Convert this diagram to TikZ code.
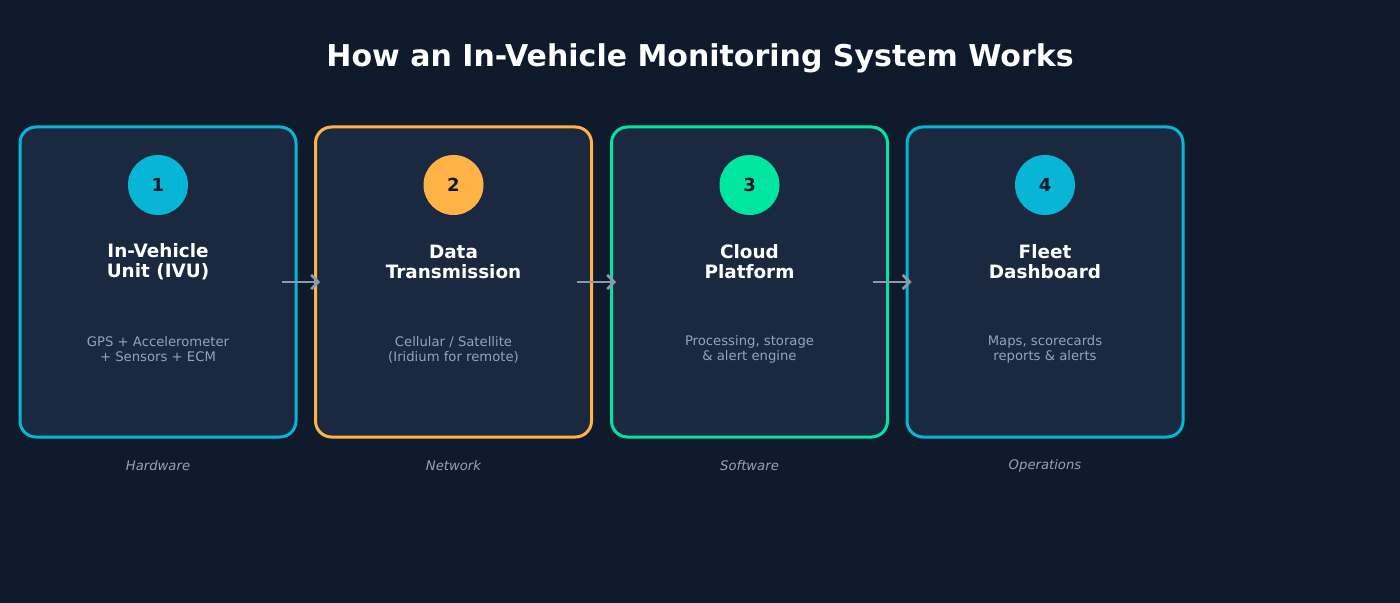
\documentclass[tikz,border=0pt]{standalone}
\usepackage{fontspec}
\setmainfont{DejaVu Sans}
\usetikzlibrary{arrows.meta}
\definecolor{bg}{HTML}{0F1A2D}
\definecolor{cardbg}{HTML}{1B2940}
\definecolor{ccyan}{HTML}{06B6D4}
\definecolor{corange}{HTML}{FFB347}
\definecolor{cgreen}{HTML}{00E5A0}
\definecolor{tgray}{HTML}{94A3B8}
\definecolor{agray}{HTML}{8A99AD}
\definecolor{numc}{HTML}{0F1A2D}
\begin{document}
\begin{tikzpicture}[x=0.5pt,y=-0.5pt,
 card/.style={draw=#1,line width=1.5pt,fill=cardbg,rounded corners=8pt,minimum width=138pt,minimum height=155pt,inner sep=0pt},
 num/.style={circle,fill=#1,minimum size=30pt,inner sep=0pt,text=numc,font=\bfseries\fontsize{9}{10}\selectfont},
 ttl/.style={text=white,font=\bfseries\fontsize{9.2}{10}\selectfont,align=center},
 sub/.style={text=tgray,font=\fontsize{6.6}{7.5}\selectfont,align=center},
 cat/.style={text=tgray,font=\itshape\fontsize{6.6}{7.5}\selectfont},
 arr/.style={draw=agray,line width=1.3pt,-{Straight Barb[length=3.5pt,width=7pt]},shorten <=-8pt,shorten >=-3pt}]
\fill[bg] (0,0) rectangle (1400,603);
\useasboundingbox (0,0) rectangle (1400,603);
\node[text=white,font=\bfseries\fontsize{15}{18}\selectfont] (title) at (700,58) {How an In-Vehicle Monitoring System Works};
\foreach \i/\x/\c/\t/\s/\k in {1/158/ccyan/{In-Vehicle\\Unit (IVU)}/{GPS + Accelerometer\\+ Sensors + ECM}/Hardware,
 2/453.5/corange/{Data\\Transmission}/{Cellular / Satellite\\(Iridium for remote)}/Network,
 3/749.5/cgreen/{Cloud\\Platform}/{Processing, storage\\\& alert engine}/Software,
 4/1045/ccyan/{Fleet\\Dashboard}/{Maps, scorecards\\reports \& alerts}/Operations}{
 \node[card=\c] (c\i) at (\x,282) {};
 \node[num=\c] (n\i) at (\x,185) {\i};
 \node[ttl] (t\i) at (\x,262) {\t};
 \node[sub] (s\i) at (\x,349.5) {\s};
 \node[cat] (k\i) at (\x,466) {\k};
}
\draw[arr] (c1.east) -- (c2.west);
\draw[arr] (c2.east) -- (c3.west);
\draw[arr] (c3.east) -- (c4.west);
\end{tikzpicture}
\end{document}
